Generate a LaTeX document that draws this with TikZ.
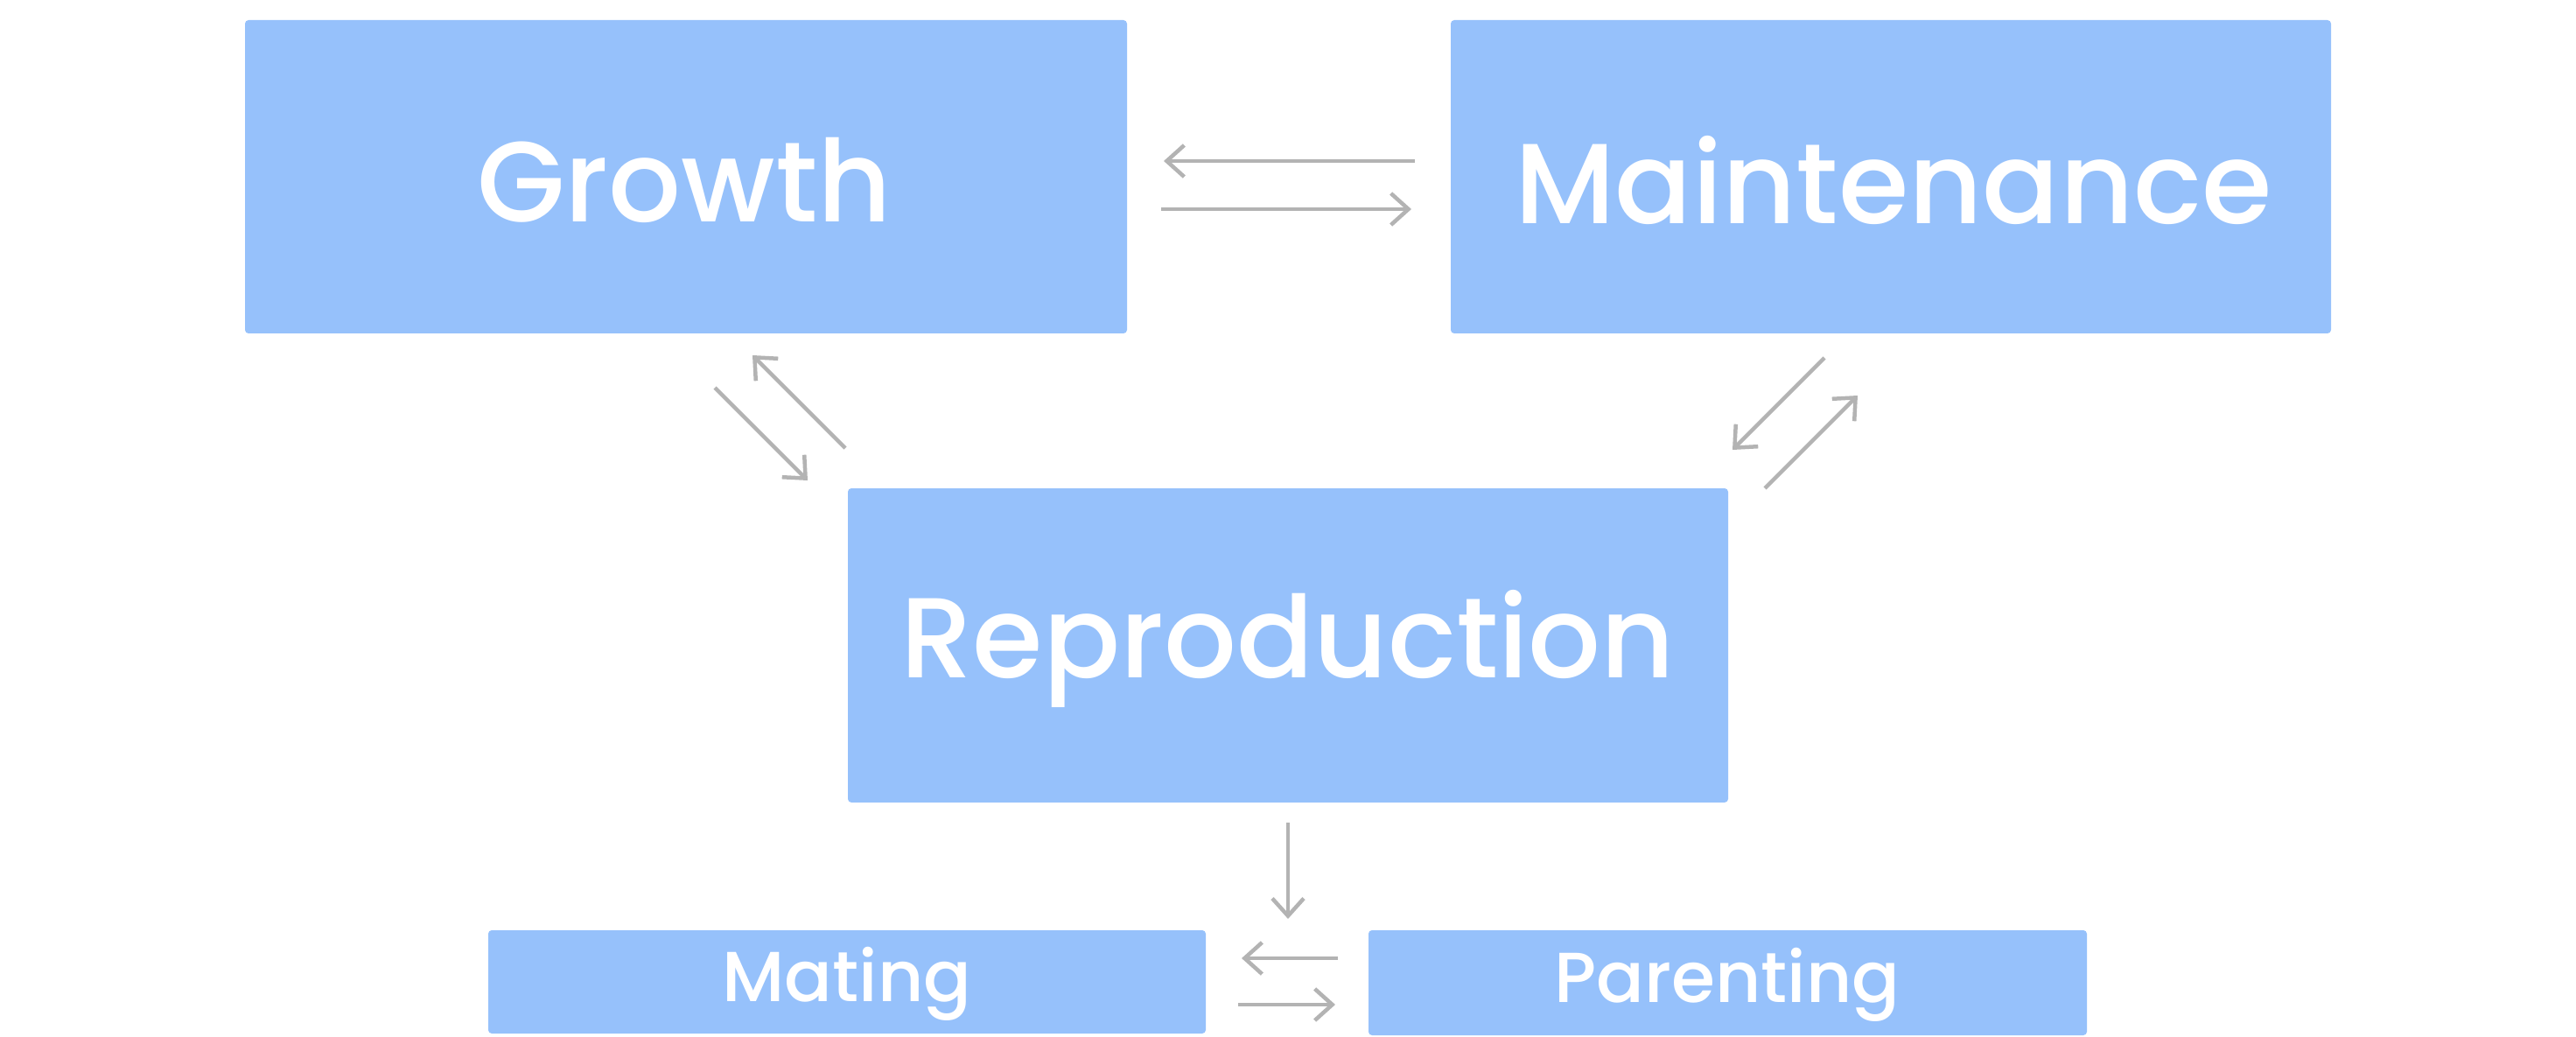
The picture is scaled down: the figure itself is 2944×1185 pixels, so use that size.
\documentclass[tikz,border=0pt]{standalone}
\usepackage{fontspec}
\setmainfont{Poppins}[UprightFont={* Medium}]
\usetikzlibrary{arrows.meta}
\definecolor{boxblue}{HTML}{96C1FB}
\definecolor{arrgray}{HTML}{B3B3B3}
\tikzset{
  blk/.style={fill=boxblue, draw=none, rounded corners=0.04cm},
  bigtxt/.style={text=white, inner sep=0pt, font=\fontsize{37}{44}\selectfont},
  smalltxt/.style={text=white, inner sep=0pt, font=\fontsize{23}{28}\selectfont},
  arr/.style={draw=arrgray, line width=0.045cm, -{Straight Barb[length=0.2cm, width=0.36cm, line width=0.045cm]}}
}
\begin{document}
\begin{tikzpicture}[x=0.01cm, y=-0.01cm]
\useasboundingbox (0,0) rectangle (2944,1185);
% boxes
\path[blk] (280,23) rectangle (1288,381);
\path[blk] (1658,23) rectangle (2664,381);
\path[blk] (969,558) rectangle (1975,917);
\path[blk] (558,1063) rectangle (1378,1181);
\path[blk] (1564,1063) rectangle (2385,1183);
% labels
\node[bigtxt] (growth) at (782,206) {Growth};
\node[bigtxt] (maint) at (2164,206) {Maintenance};
\node[bigtxt] (repro) at (1472,741) {Reproduction};
\node[smalltxt] (mating) at (968,1124) {Mating};
\node[smalltxt] (parent) at (1974,1125) {Parenting};
% arrow endpoints
\coordinate (a1s) at (1617,184); \coordinate (a1e) at (1330,184);
\coordinate (a2s) at (1327,239); \coordinate (a2e) at (1613,239);
\coordinate (b1s) at (966,512); \coordinate (b1e) at (860,406);
\coordinate (b2s) at (817,443); \coordinate (b2e) at (923,549);
\coordinate (c1s) at (2085,409); \coordinate (c1e) at (1980,514);
\coordinate (c2s) at (2017,558); \coordinate (c2e) at (2123,452);
\coordinate (d1s) at (1472,940); \coordinate (d1e) at (1472,1050);
\coordinate (e1s) at (1529,1095); \coordinate (e1e) at (1419,1095);
\coordinate (e2s) at (1415,1148); \coordinate (e2e) at (1526,1148);
\draw[arr] (a1s) -- (a1e);
\draw[arr] (a2s) -- (a2e);
\draw[arr] (b1s) -- (b1e);
\draw[arr] (b2s) -- (b2e);
\draw[arr] (c1s) -- (c1e);
\draw[arr] (c2s) -- (c2e);
\draw[arr] (d1s) -- (d1e);
\draw[arr] (e1s) -- (e1e);
\draw[arr] (e2s) -- (e2e);
\end{tikzpicture}
\end{document}
